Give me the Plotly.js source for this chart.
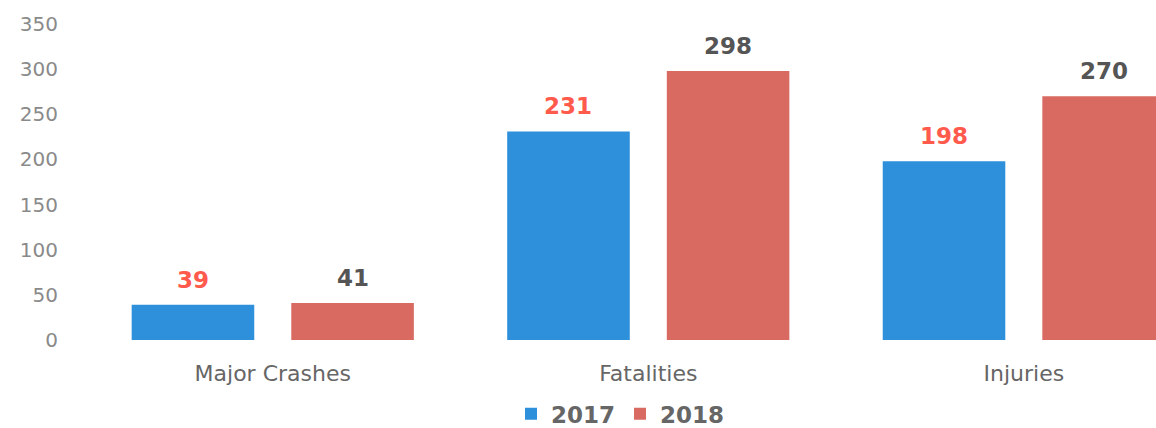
<!DOCTYPE html>
<html>
<head>
<meta charset="utf-8">
<script src="https://cdn.plot.ly/plotly-3.0.1.min.js"></script>
<style>html,body{margin:0;padding:0;background:#fff}#chart{width:1156px;height:428px}</style>
</head>
<body>
<div id="chart"></div>
<script>
const categories = ["Major Crashes", "Fatalities", "Injuries"];
const values2017 = [39, 231, 198];
const values2018 = [41, 298, 270];
const seriesNames = ["2017", "2018"];
const yTicks = [0, 50, 100, 150, 200, 250, 300, 350];

const blue = "#2e8fdb", red = "#d96a62";
const labelFont = {family: "DejaVu Sans", size: 23, weight: 700};

const traces = [
  {type: "bar", name: seriesNames[0], x: categories, y: values2017,
   marker: {color: blue}, hoverinfo: "none"},
  {type: "bar", name: seriesNames[1], x: categories, y: values2018,
   marker: {color: red}, hoverinfo: "none"}
];

const offset = 80;
const annotations = [];
categories.forEach((c, i) => {
  annotations.push({x: c, y: values2017[i], text: String(values2017[i]), showarrow: false,
    xshift: -offset, yanchor: "bottom", yshift: 10, font: Object.assign({}, labelFont, {color: "#ff5a4c"})});
  annotations.push({x: c, y: values2018[i], text: String(values2018[i]), showarrow: false,
    xshift: offset, yanchor: "bottom", yshift: 10, font: Object.assign({}, labelFont, {color: "#555555"})});
});

const layout = {
  width: 1156, height: 428,
  margin: {l: 85, r: 0, t: 24, b: 88, autoexpand: false},
  paper_bgcolor: "#fff", plot_bgcolor: "#fff",
  barmode: "group", bargap: 0.15, bargroupgap: 0.232,
  xaxis: {type: "category", range: [-0.5, 2.352], showgrid: false, zeroline: false,
    showline: false, ticks: "", ticklabelstandoff: 18,
    tickfont: {family: "DejaVu Sans", size: 22, color: "#666666"}},
  yaxis: {range: [0, 350], tickvals: yTicks, showgrid: false, zeroline: false,
    showline: false, ticks: "", ticklabelstandoff: 26,
    tickfont: {family: "DejaVu Sans", size: 20, color: "#8a8a8a"}},
  showlegend: true,
  legend: {orientation: "h", x: 0.5, xanchor: "center", xref: "paper",
    y: 0.033, yanchor: "middle", yref: "container",
    font: {family: "DejaVu Sans", size: 23, weight: 700, color: "#666666"},
    itemwidth: 30, traceorder: "normal"},
  annotations: annotations
};

Plotly.newPlot("chart", traces, layout, {displayModeBar: false, staticPlot: true});
</script>
</body>
</html>
